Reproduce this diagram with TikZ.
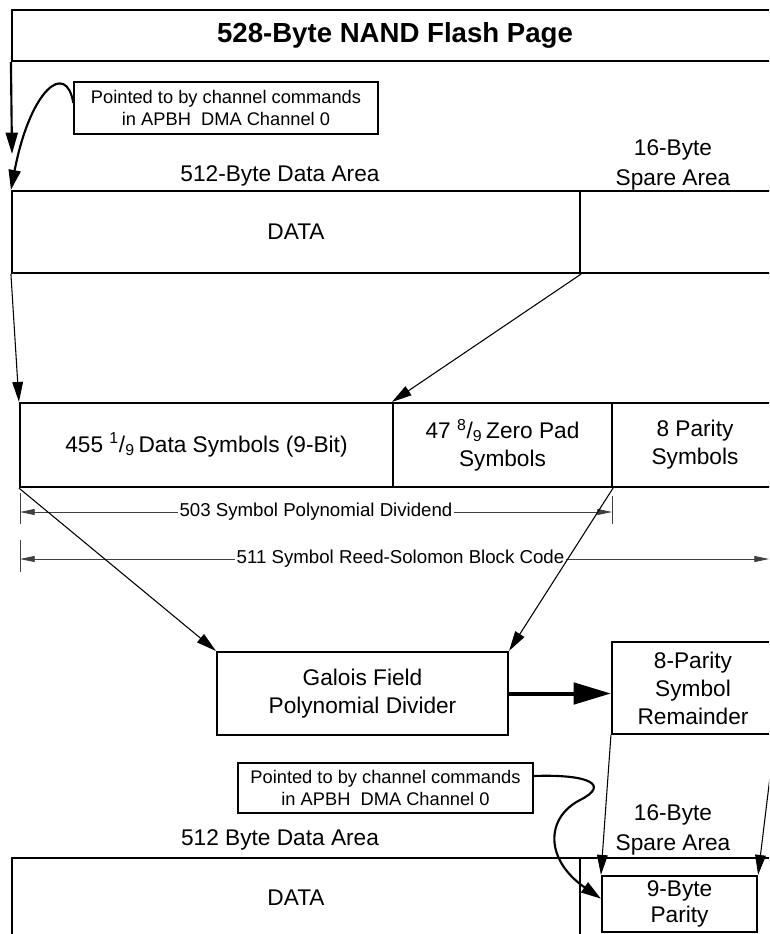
\documentclass[tikz,border=0pt]{standalone}
\usepackage{fontspec}
\setmainfont{Liberation Sans}
\usetikzlibrary{arrows.meta}
\newdimen\px
\px=0.75pt
\tikzset{
  box/.style={draw, line width=1.6pt, inner sep=0pt, align=center, font=\fontsize{17pt}{21pt}\selectfont},
  cmdbox/.style={draw, line width=1pt, inner sep=0pt, align=center, font=\fontsize{13.7pt}{16pt}\selectfont},
  lab/.style={align=center, inner sep=0pt, font=\fontsize{17pt}{22.5pt}\selectfont},
  dimline/.style={line width=0.6pt, black!75, {Triangle[length=11pt,width=4.5pt]}-{Triangle[length=11pt,width=4.5pt]}},
  dimlab/.style={fill=white, text=black, inner sep=1pt, font=\fontsize{14pt}{16pt}\selectfont},
  conn/.style={line width=0.8pt, -{Triangle[length=15pt,width=8pt]}},
  curv/.style={line width=1.6pt, -{Triangle[length=15pt,width=9pt]}}}

\begin{document}
\begin{tikzpicture}[x=0.75pt,y=-0.75pt]
  \useasboundingbox (0,0) rectangle (769,934);
  \clip (0,0) rectangle (769,934);
  \node[box, minimum width=766\px, minimum height=51\px, font=\fontsize{20.7pt}{25pt}\selectfont\bfseries] (title) at (395,35.5) {528-Byte NAND Flash Page};
  \coordinate (ptr) at (12,154);
  \draw[line width=1.6pt, -{Triangle[length=16pt,width=9pt]}] (title.south west) -- (ptr);
  \node[cmdbox, minimum width=304\px, minimum height=52\px] (cmd1) at (226,108) {Pointed to by channel commands\\in APBH\ \ DMA Channel 0};
  \node[lab] (dlab) at (280,176) {512-Byte Data Area};
  \node[lab] (slab) at (673,165) {16-Byte\\Spare Area};
  \node[box, minimum width=568\px, minimum height=82\px] (data) at (296,232) {DATA};
  \node[box, minimum width=205\px, minimum height=82\px] (spare) at (682.5,232) {};
  \draw[curv] ([yshift=3.75pt]cmd1.west) .. controls (66,60) and (30,90) .. (data.north west);

  \node[box, minimum width=373\px, minimum height=84\px] (sym) at (206.5,445) {455 \textsuperscript{1}/\textsubscript{9}\,Data Symbols (9-Bit)};
  \node[box, minimum width=219\px, minimum height=84\px] (zero) at (502.5,445) {47 \textsuperscript{8}/\textsubscript{9}\,Zero Pad\\Symbols};
  \node[box, minimum width=166\px, minimum height=84\px] (par) at (695,445) {8 Parity\\Symbols};
  \draw[conn] (data.south west) -- (sym.north west);
  \draw[conn] (data.south east) -- (zero.north west);

  \coordinate (d1l) at (20,512);
  \coordinate (d1r) at (612,512);
  \coordinate (d2l) at (20,559);
  \coordinate (d2r) at (769,559);
  \draw[line width=0.6pt, black!75] (20,493) -- (20,524) (612,496) -- (612,524) (20,540) -- (20,572);
  \draw[dimline] (d1l) -- node[dimlab] {503 Symbol Polynomial Dividend} (d1r);
  \draw[dimline] (d2l) -- node[dimlab, pos=0.508] {511 Symbol Reed-Solomon Block Code} (d2r);

  \node[box, minimum width=291\px, minimum height=83\px] (gf) at (362.5,693.5) {Galois Field\\Polynomial Divider};
  \node[box, minimum width=162\px, minimum height=92\px] (rem) at (693,688) {8-Parity\\Symbol\\Remainder};
  \draw[conn] (sym.south west) -- (gf.north west);
  \draw[conn] (zero.south east) -- (gf.north east);
  \draw[line width=3pt, -{Triangle[length=28pt,width=16pt]}] (gf.east) -- (gf.east -| rem.west);

  \node[cmdbox, minimum width=295\px, minimum height=50\px] (cmd2) at (385.5,788) {Pointed to by channel commands\\in APBH\ \ DMA Channel 0};
  \node[lab] (dlab2) at (280,840) {512 Byte Data Area};
  \node[lab] (slab2) at (673,830) {16-Byte\\Spare Area};
  \node[box, minimum width=568\px, minimum height=80\px] (data2) at (296,898) {DATA};
  \node[box, minimum width=205\px, minimum height=80\px] (spare2) at (682.5,898) {};
  \node[box, minimum width=155\px, minimum height=56\px, font=\fontsize{17pt}{19pt}\selectfont] (nine) at (679.5,904) {9-Byte\\Parity};
  \draw[conn] (rem.south west) -- (nine.north west);
  \draw[conn] (rem.south east) -- (nine.north east);
  \draw[curv] ([yshift=9pt]cmd2.east) .. controls (590,774) and (610,785) .. (580,800) .. controls (545,818) and (545,860) .. ([yshift=4pt]nine.west);
\end{tikzpicture}
\end{document}
